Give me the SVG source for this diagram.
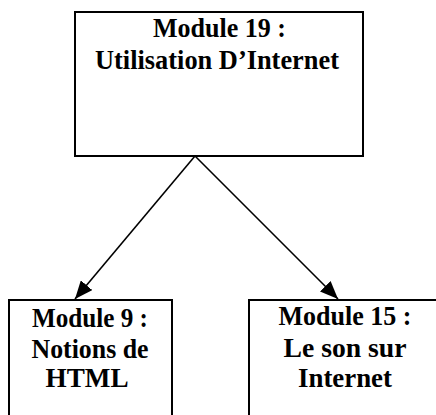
<svg xmlns="http://www.w3.org/2000/svg" width="436" height="415" viewBox="0 0 436 415">
<style>
.box{fill:#fff;stroke:#000;stroke-width:2}
.t{font-family:"Liberation Serif","Times New Roman",serif;font-weight:bold;font-size:26.5px;fill:#000;text-anchor:middle}
.edge{stroke:#000;stroke-width:1.6;fill:none}
</style>
<defs>
<marker id="ah" markerUnits="userSpaceOnUse" markerWidth="19" markerHeight="15" refX="18" refY="7.5" orient="auto">
<path d="M0,0 L18,7.5 L0,15 Z" fill="#000"/>
</marker>
</defs>
<rect width="436" height="415" fill="#fff"/>
<g id="module19">
<rect class="box" x="75" y="12" width="288" height="144"/>
<text class="t" x="219.5" y="37" textLength="133" lengthAdjust="spacingAndGlyphs">Module 19 :</text>
<text class="t" x="217" y="69" textLength="244" lengthAdjust="spacingAndGlyphs">Utilisation D’Internet</text>
</g>
<g id="module9">
<rect class="box" x="9" y="300" width="163" height="125"/>
<text class="t" x="90" y="327" textLength="116" lengthAdjust="spacingAndGlyphs">Module 9 :</text>
<text class="t" x="90" y="358" textLength="117" lengthAdjust="spacingAndGlyphs">Notions de</text>
<text class="t" x="87" y="387" textLength="83" lengthAdjust="spacingAndGlyphs">HTML</text>
</g>
<g id="module15">
<rect class="box" x="249" y="300" width="200" height="125"/>
<text class="t" x="345" y="325" textLength="133" lengthAdjust="spacingAndGlyphs">Module 15 :</text>
<text class="t" x="345" y="357" textLength="123" lengthAdjust="spacingAndGlyphs">Le son sur</text>
<text class="t" x="345" y="387" textLength="94" lengthAdjust="spacingAndGlyphs">Internet</text>
</g>
<g id="connectors">
<line class="edge" x1="195" y1="156" x2="75" y2="299" marker-end="url(#ah)"/>
<line class="edge" x1="195" y1="156" x2="338" y2="299" marker-end="url(#ah)"/>
</g>
</svg>
